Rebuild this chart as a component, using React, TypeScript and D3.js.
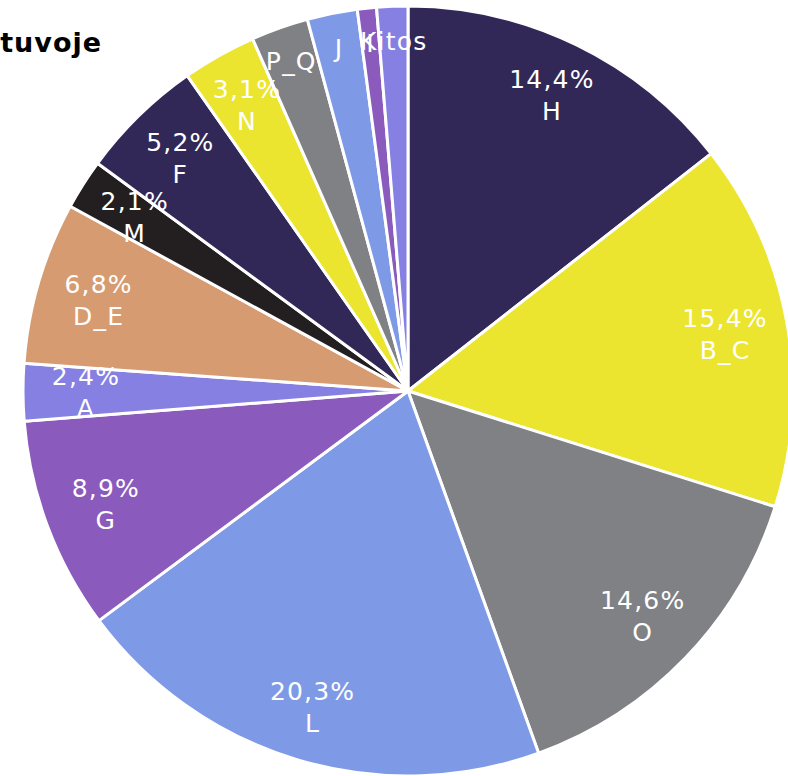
import { useEffect, useRef } from 'react'
import * as d3 from 'd3'

// Sector shares (%), clockwise from 12 o'clock
const categories = ['H', 'B_C', 'O', 'L', 'G', 'A', 'D_E', 'M', 'F', 'N', 'P_Q', 'J', 'I', 'Kitos']
const shares = [14.4, 15.4, 14.6, 20.3, 8.9, 2.4, 6.8, 2.1, 5.2, 3.1, 2.4, 2.1, 0.8, 1.3]
// slices whose label only shows the name (no room for the percent)
const nameOnly = ['P_Q', 'J', 'I', 'Kitos']
const palette = ['#312857', '#ECE52F', '#808184', '#7E9AE6', '#8A5BBD', '#8580E2', '#D79B71', '#231F20']

const TITLE = 'Užimtieji pagal ekonominės veiklos rūšis Lietuvoje'
const W = 788
const H = 776
const FONT = 'DejaVu Sans, Verdana, sans-serif'

type Slice = { name: string; value: number; color: string }

export default function App() {
  const svgRef = useRef<SVGSVGElement>(null)

  useEffect(() => {
    if (!svgRef.current) return
    const data: Slice[] = categories.map((name, i) => ({
      name,
      value: shares[i],
      color: palette[i % palette.length],
    }))

    const cx = 408
    const cy = 391
    const r = 385

    const svg = d3.select(svgRef.current)
    svg.selectAll('*').remove()

    const pie = d3.pie<Slice>().value((d) => d.value).sort(null)
    const arcs = pie(data)
    const arc = d3.arc<d3.PieArcDatum<Slice>>().innerRadius(0).outerRadius(r)

    const g = svg.append('g').attr('transform', `translate(${cx},${cy})`)

    g.selectAll('path.slice')
      .data(arcs)
      .join('path')
      .attr('class', 'slice')
      .attr('d', arc)
      .attr('fill', (d) => d.data.color)
      .attr('stroke', '#fff')
      .attr('stroke-width', 3)
      .attr('stroke-linejoin', 'round')

    const fmt = (v: number) => v.toFixed(1).replace('.', ',') + '%'

    arcs.forEach((d) => {
      const compact = nameOnly.includes(d.data.name)
      const mid = (d.startAngle + d.endAngle) / 2
      // two-line labels sit a bit further out near top/bottom than at the sides
      const lr = compact ? 350 : 334 - 12 * Math.abs(Math.sin(mid))
      const lx = lr * Math.sin(mid)
      const ly = -lr * Math.cos(mid)
      const t = g.append('text')
        .attr('x', lx)
        .attr('text-anchor', 'middle')
        .attr('fill', '#fff')
        .attr('font-family', FONT)
        .attr('font-size', 25)
        .attr('letter-spacing', 1.2)
      if (compact) {
        t.attr('y', ly + 9).text(d.data.name)
      } else {
        t.append('tspan').attr('x', lx).attr('y', ly - 7).text(fmt(d.data.value))
        t.append('tspan').attr('x', lx).attr('y', ly + 25).text(d.data.name)
      }
    })

    // title, anchored so only its tail shows at the left edge
    svg.append('text')
      .attr('x', 102)
      .attr('y', 52)
      .attr('text-anchor', 'end')
      .attr('font-family', FONT)
      .attr('font-weight', 'bold')
      .attr('font-size', 27)
      .attr('letter-spacing', 1)
      .attr('fill', '#000')
      .text(TITLE)
  }, [])

  return (
    <svg
      ref={svgRef}
      width={W}
      height={H}
      style={{ position: 'absolute', left: 0, top: 0, background: '#fff' }}
    />
  )
}
